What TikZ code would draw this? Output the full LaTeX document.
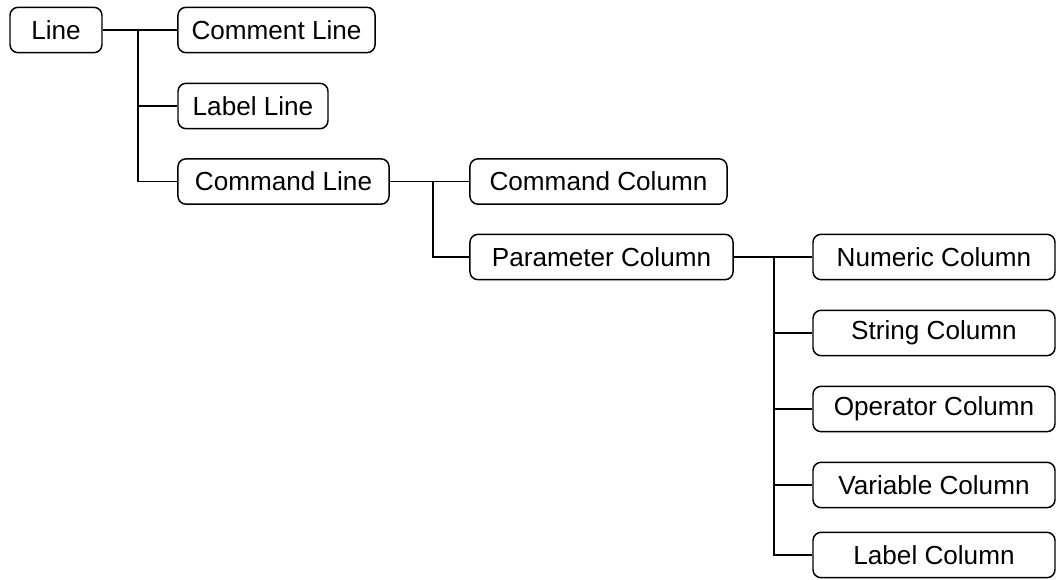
\documentclass[tikz,border=0pt]{standalone}
\usepackage{fontspec}
\setmainfont{Liberation Sans}
\usetikzlibrary{calc}

\begin{document}
\begin{tikzpicture}[x=0.75pt,y=-0.75pt, line width=1.1pt,
    box/.style={draw, rounded corners=6pt, minimum height=34pt, inner sep=0pt, font=\fontsize{19.6}{23}\selectfont},
    colbox/.style={box, minimum width=181.5pt}]
    \useasboundingbox (0,0) rectangle (1057,579);

    % first level
    \node[box, minimum width=69pt] (line) at (56,30) {Line};
    \node[box, minimum width=147.8pt] (commentln) at (276.5,30) {Comment Line};
    \node[box, minimum width=112.5pt] (labelln) at (253,106) {Label Line};
    \node[box, minimum width=158.3pt] (commandln) at (283.5,181.5) {Command Line};

    % second level, below the command line
    \node[box, minimum width=192.8pt] (commandcol) at (598.5,181.5) {Command Column};
    \node[box, minimum width=197.3pt] (paramcol) at (601.5,257) {Parameter Column};

    % third level, the kinds of parameter column
    \foreach \t [count=\xi from 0] in {Numeric,String,Operator,Variable} {
        \node[colbox] (c\xi) at (934,257+\xi*76) {\t\ Column};
    }
    \node[colbox] (c4) at (934,555) {Label Column};

    % trunk of each level
    \coordinate (ta) at (138,30);
    \coordinate (tb) at (433,181.5);
    \coordinate (tc) at (774,257);

    \draw (line.east) -- (commentln.west);
    \draw (ta) |- (labelln.west);
    \draw (ta) |- (commandln.west);

    \draw (commandln.east) -- (commandcol.west);
    \draw (tb) |- (paramcol.west);

    \draw (paramcol.east) -- (c0.west);
    \foreach \xi in {1,...,4} {
        \draw (tc) |- (c\xi.west);
    }
\end{tikzpicture}
\end{document}
